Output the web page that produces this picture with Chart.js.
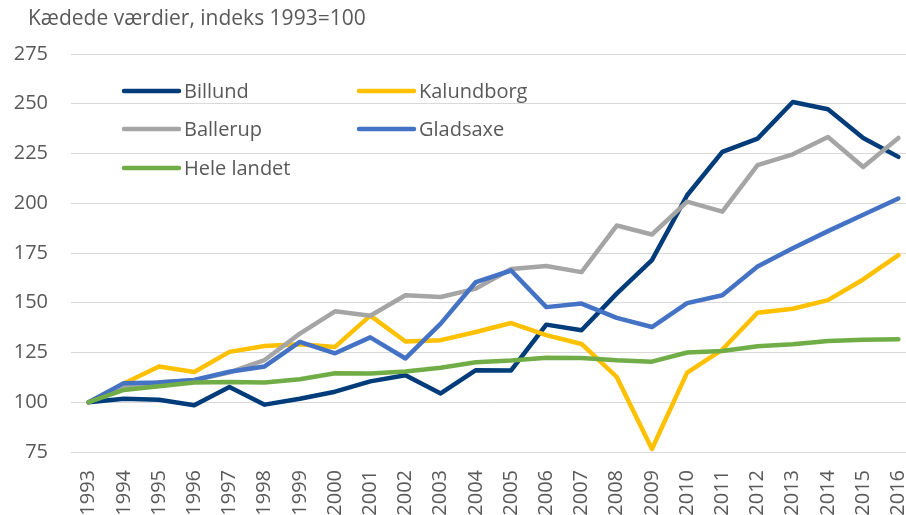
<!DOCTYPE html>
<html>
<head>
<meta charset="utf-8">
<script src="https://cdn.jsdelivr.net/npm/chart.js@4"></script>
<style>
  html, body { margin: 0; padding: 0; background: #fff; overflow: hidden; }
</style>
</head>
<body>
<canvas id="grafik" width="916" height="515"></canvas>
<script>
const aar = ['1993','1994','1995','1996','1997','1998','1999','2000','2001','2002','2003','2004',
             '2005','2006','2007','2008','2009','2010','2011','2012','2013','2014','2015','2016'];

const billund     = [100, 101.8, 101.3, 98.5, 107.7, 98.8, 101.8, 105.3, 110.5, 113.6, 104.4, 116.1,
                     116.0, 139.0, 136.2, 154.6, 171.4, 204.0, 225.8, 232.5, 250.9, 247.2, 232.8, 223.3];
const kalundborg  = [100, 109.4, 118.0, 115.2, 125.3, 128.3, 129.1, 127.8, 143.5, 130.5, 131.2, 135.3,
                     139.8, 133.7, 129.3, 112.7, 76.5, 114.9, 126.5, 145.0, 147.0, 151.3, 161.7, 173.9];
const ballerup    = [100, 107.5, 110.0, 111.0, 115.0, 121.2, 134.5, 145.7, 143.5, 153.8, 152.9, 157.1,
                     167.0, 168.5, 165.4, 188.8, 184.3, 200.8, 195.8, 219.2, 224.6, 233.3, 218.2, 232.8];
const gladsaxe    = [100, 109.6, 109.9, 111.2, 115.3, 118.0, 130.3, 124.6, 132.6, 122.0, 139.5, 160.4,
                     166.2, 147.8, 149.6, 142.4, 137.8, 149.8, 153.8, 168.2, 177.4, 186.0, 194.2, 202.4];
const heleLandet  = [100, 106.2, 108.0, 109.9, 110.2, 109.9, 111.6, 114.6, 114.4, 115.4, 117.3, 120.1,
                     121.0, 122.4, 122.2, 121.1, 120.4, 125.0, 125.8, 128.1, 129.1, 130.8, 131.4, 131.6];

const yTicks = [75, 100, 125, 150, 175, 200, 225, 250, 275];

const tekstFarve = '#595959';
const skrift = "'Open Sans', 'Noto Sans', sans-serif";

const serier = [
  { label: 'Billund',     data: billund,    color: '#003B7A', order: 5 },
  { label: 'Kalundborg',  data: kalundborg, color: '#FFC000', order: 4 },
  { label: 'Ballerup',    data: ballerup,   color: '#A5A5A5', order: 3 },
  { label: 'Gladsaxe',    data: gladsaxe,   color: '#4472C4', order: 2 },
  { label: 'Hele landet', data: heleLandet, color: '#70AD47', order: 1 }
];

// legend i to kolonner inde i plotområdet
const legendePlugin = {
  id: 'legende',
  afterDraw(chart) {
    const ctx = chart.ctx;
    const pos = [[124, 91], [359, 91], [124, 129], [359, 129], [124, 168]];
    ctx.save();
    ctx.font = '20px ' + skrift;
    ctx.textBaseline = 'middle';
    ctx.lineCap = 'round';
    ctx.lineWidth = 4.5;
    serier.forEach((s, i) => {
      const [x, y] = pos[i];
      ctx.strokeStyle = s.color;
      ctx.beginPath();
      ctx.moveTo(x, y);
      ctx.lineTo(x + 55, y);
      ctx.stroke();
      ctx.fillStyle = tekstFarve;
      ctx.fillText(s.label, x + 60, y + 1);
    });
    ctx.restore();
  }
};

const titelPlugin = {
  id: 'titel',
  afterDraw(chart) {
    const ctx = chart.ctx;
    ctx.save();
    ctx.font = '21px ' + skrift;
    ctx.fillStyle = tekstFarve;
    ctx.textBaseline = 'alphabetic';
    ctx.fillText('Kædede værdier, indeks 1993=100', 28, 25);
    ctx.restore();
  }
};

new Chart(document.getElementById('grafik'), {
  type: 'line',
  data: {
    labels: aar,
    datasets: serier.map(s => ({
      label: s.label,
      data: s.data,
      borderColor: s.color,
      backgroundColor: s.color,
      borderWidth: 4.5,
      borderCapStyle: 'round',
      borderJoinStyle: 'round',
      pointRadius: 0,
      tension: 0,
      order: s.order
    }))
  },
  options: {
    responsive: false,
    animation: false,
    layout: { padding: { top: 54, left: 0, right: 0, bottom: 0 } },
    plugins: {
      legend: { display: false },
      title: { display: false },
      tooltip: { enabled: false }
    },
    scales: {
      x: {
        offset: true,
        grid: { display: false, drawTicks: false },
        border: { display: false },
        afterFit(scale) {
          scale.height = 63;
          scale.paddingLeft = 0;
          scale.paddingRight = 0;
        },
        ticks: {
          color: tekstFarve,
          font: { family: skrift, size: 20 },
          maxRotation: 90,
          minRotation: 90,
          padding: 18,
          autoSkip: false
        }
      },
      y: {
        min: 75,
        max: 275,
        afterFit(scale) { scale.width = 71; },
        afterBuildTicks(scale) { scale.ticks = yTicks.map(v => ({ value: v })); },
        grid: { color: '#D9D9D9', lineWidth: 1, drawTicks: false },
        border: { display: false },
        ticks: {
          color: tekstFarve,
          font: { family: skrift, size: 20 },
          padding: 23
        }
      }
    }
  },
  plugins: [legendePlugin, titelPlugin]
});
</script>
</body>
</html>
